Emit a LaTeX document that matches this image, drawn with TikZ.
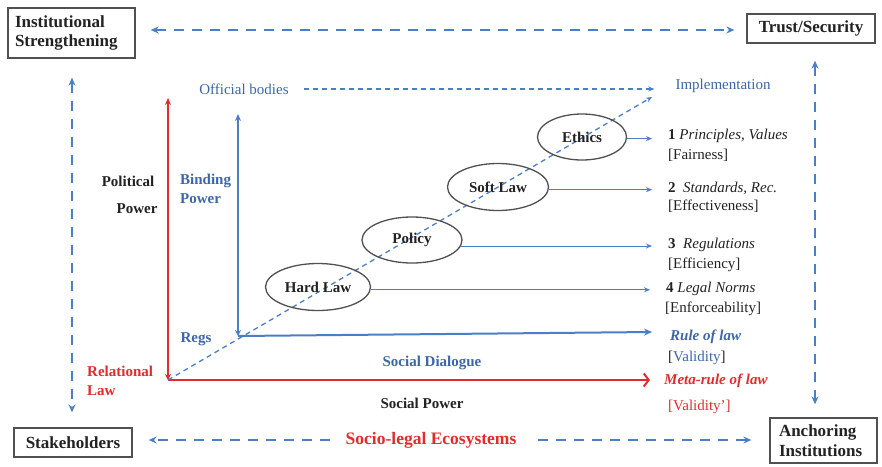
\documentclass[tikz,border=0pt]{standalone}
\usepackage{fontspec}
\setmainfont{Liberation Serif}
\usetikzlibrary{arrows.meta,calc,shapes.geometric}
\definecolor{lblue}{HTML}{4A7FC5}
\definecolor{tblue}{HTML}{3D66A8}
\definecolor{myred}{HTML}{E22B2B}
\definecolor{bord}{HTML}{505050}
\definecolor{ink}{HTML}{222222}
\begin{document}
\begin{tikzpicture}[x=1pt,y=-1pt,
  box/.style={draw=bord, line width=1.3pt, font=\fontsize{17}{19.5}\selectfont\bfseries, align=left, text=ink},
  bigarrow/.style={lblue, line width=2.4pt, dash pattern=on 10pt off 8pt, >={Stealth[length=8pt,width=7pt]}},
  redaxis/.style={myred, line width=2.5pt},
  blueaxis/.style={lblue, line width=2pt},
  thinarrow/.style={lblue, line width=1pt, -{Stealth[length=6pt,width=5pt]}, shorten >=16pt},
  thindash/.style={lblue, line width=1.3pt, dash pattern=on 5pt off 4pt},
  ell/.style={ellipse, draw=bord, line width=1.3pt, inner sep=0pt, font=\fontsize{15}{17}\selectfont\bfseries, text=ink},
  lab/.style={anchor=west, inner sep=0pt, font=\fontsize{15}{17}\selectfont, text=ink},
  bl/.style={inner sep=1pt, font=\fontsize{15}{19}\selectfont\bfseries, text=ink},
  tl/.style={inner sep=2pt, font=\fontsize{15}{17}\selectfont, text=tblue}
]
\useasboundingbox (0,0) rectangle (882,466);

% corner boxes
\node[box, text width=113pt, inner xsep=7pt, minimum height=50pt] (is) at (71.5,33) {Institutional\\Strengthening};
\node[box, minimum width=128pt, minimum height=29pt, inner sep=2pt] (ts) at (811,28.5) {Trust/Security};
\node[box, minimum width=118pt, minimum height=29pt, inner sep=2pt] (st) at (73,442.5) {Stakeholders};
\node[box, text width=89pt, inner xsep=9pt, minimum height=45pt] (ai) at (823.5,440.5) {Anchoring\\Institutions};
\node[inner sep=1pt, font=\fontsize{17.5}{20}\selectfont\bfseries, text=myred] (sle) at (431,440) {Socio-legal Ecosystems};

% outer dashed arrows
\draw[bigarrow, <->] ($(is.east)+(15,-3)$) -- ($(ts.west)+(-12,1.5)$);
\draw[bigarrow, <->] ($(is.south)+(0.5,19)$) -- ($(st.north)+(-1,-15)$);
\draw[bigarrow, <->] ($(ts.south)+(4,17)$) -- ($(ai.north)+(-8.5,-13)$);
\draw[bigarrow, ->] ($(sle.west)+(-15,0)$) -- ($(st.east)+(16,-2.5)$);
\draw[bigarrow, ->] ($(sle.east)+(20,0)$) -- ($(ai.west)+(-18,-0.5)$);

% axes
\coordinate (O) at (168,380);
\coordinate (Rt) at (168,98);
\coordinate (Rr) at (650,380);
\coordinate (B) at (238,336);
\coordinate (Bt) at (238,114);
\coordinate (Br) at (652,332);
\coordinate (D) at (652,97);

\draw[redaxis, {Stealth[length=6pt,width=6pt]}-{Stealth[length=7pt,width=6pt]}] (O) -- (Rt);
\draw[redaxis, -{Straight Barb[length=5pt,width=13pt,line width=2pt]}] (O) -- (Rr);
\draw[blueaxis, {Stealth[length=6pt,width=6pt]}-{Stealth[length=7pt,width=6pt]}] (B) -- (Bt);
\draw[blueaxis, -{Stealth[length=8pt,width=7pt]}] (B) -- (Br);
\draw[thindash, -{Stealth[length=6pt,width=5pt]}] (O) -- (D);

% top texts
\node[tl] (ob) at (244,89) {Official bodies};
\node[tl] (im) at (723,86) {Implementation};
\draw[thindash, -{Stealth[length=6pt,width=5pt]}] ($(ob.east)+(13,0)$) -- ($(im.west)+(-19,3)$);

% ellipses
\node[ell, minimum width=89pt, minimum height=46pt] (eth) at (582,137) {Ethics};
\node[ell, minimum width=101pt, minimum height=47pt] (sl) at (498,187) {Soft Law};
\node[ell, minimum width=100pt, minimum height=46pt] (pol) at (412,240) {Policy};
\node[ell, minimum width=105pt, minimum height=47pt] (hl) at (318,287) {Hard Law};

% right labels
\node[lab] (l1a) at (668,136) {\textbf{1} \textit{Principles, Values}};
\node[lab] (l1b) at (668,155) {[Fairness]};
\node[lab] (l2a) at (668,188) {\textbf{2}\ \ \textit{Standards, Rec.}};
\node[lab] (l2b) at (668,206) {[Effectiveness]};
\node[lab] (l3a) at (668,245) {\textbf{3}\ \ \textit{Regulations}};
\node[lab] (l3b) at (668,265) {[Efficiency]};
\node[lab] (l4a) at (666,289) {\textbf{4} \textit{Legal Norms}};
\node[lab] (l4b) at (665,309) {[Enforceability]};
\node[lab, text=tblue] (r1) at (670,337) {\textbf{\textit{Rule of law}}};
\node[lab] (r1b) at (668,358) {[\textcolor{tblue}{Validity}]};
\node[lab, text=myred] (r2) at (664,381) {\textbf{\textit{Meta-rule of law}}};
\node[lab, text=myred] (r2b) at (668,407) {[Validity’]};

% ellipse arrows
\draw[thinarrow] (eth.-2) -- (eth.-2 -| l1a.west);
\draw[thinarrow] (sl.-3) -- (sl.-3 -| l2a.west);
\draw[thinarrow] (pol.-7) -- (pol.-7 -| l3a.west);
\draw[thinarrow] (hl.-3) -- (hl.-3 -| l4a.west);

% left / bottom labels
\node[bl] (pp1) at (128,181) {Political};
\node[bl] (pp2) at (137,209) {Power};
\node[bl, text=tblue, align=left, anchor=west] (bp) at (179,188.5) {Binding\\Power};
\node[bl, text=tblue] (rg) at (196,339) {Regs};
\node[bl, text=myred, align=left, anchor=west] (rl) at (86,381) {Relational\\Law};
\node[bl, text=tblue] (sd) at (432,363) {Social Dialogue};
\node[bl] (sp) at (422,403) {Social Power};
\end{tikzpicture}
\end{document}
